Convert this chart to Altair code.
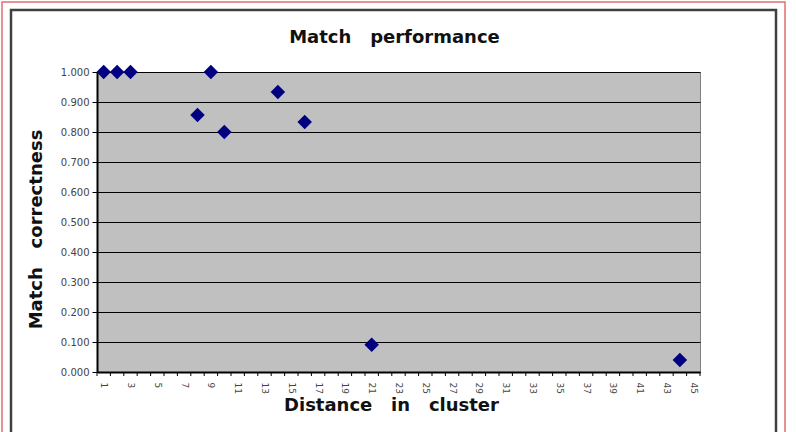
import altair as alt
import pandas as pd

# data
distance = [1, 2, 3, 8, 9, 10, 14, 16, 21, 44]
correctness = [1.000, 1.000, 1.000, 0.857, 1.000, 0.800, 0.933, 0.833, 0.091, 0.040]
tick_bounds = [i + 0.5 for i in range(0, 46)]
x_label_values = list(range(1, 46, 2))
y_tick_values = [round(i * 0.1, 1) for i in range(0, 11)]

NB = "\u00a0"
title_text = f"Match{NB}{NB}{NB}performance"
x_title = f"Distance{NB}{NB}{NB}in{NB}{NB}{NB}cluster"
y_title = f"Match{NB}{NB}{NB}correctness"

LFONT = "DejaVu Sans"
TFONT = "DejaVu Sans"
TSIZE = 18
W, H = 603, 300

df = pd.DataFrame({"distance": distance, "correctness": correctness})
ticks_df = pd.DataFrame({"b": tick_bounds})
title_df = pd.DataFrame({"t": [title_text]})

x_scale = alt.Scale(domain=[0.5, 45.5], nice=False, zero=False)
y_scale = alt.Scale(domain=[0, 1], nice=False)

x_axis = alt.Axis(values=x_label_values, title=x_title, tickSize=0,
                  labelAngle=90, labelAlign="left", labelBaseline="middle",
                  labelPadding=10, labelFontSize=9, labelFont=LFONT,
                  labelColor="#444444", grid=False, domainColor="#000000",
                  domainWidth=2, titleFont=TFONT, titleFontSize=TSIZE,
                  titleFontWeight="bold", titleColor="#111111",
                  titlePadding=3, titleX=294, labelOverlap=False)

points = alt.Chart(df).mark_point(
    shape="diamond", filled=True, size=210, color="#000080", opacity=1
).encode(
    x=alt.X("distance:Q", scale=x_scale, axis=x_axis),
    y=alt.Y("correctness:Q", scale=y_scale,
            axis=alt.Axis(values=y_tick_values, format=".3f", title=y_title,
                          tickSize=5, tickColor="#000000", labelFontSize=10,
                          labelFont=LFONT, labelColor="#444444", labelPadding=3,
                          gridColor="#000000", gridWidth=1.2, gridOpacity=1,
                          domainColor="#000000", domainWidth=2,
                          titleFont=TFONT, titleFontSize=TSIZE, titleFontWeight="bold",
                          titleColor="#111111", titlePadding=15, titleY=157)),
)

xticks = alt.Chart(ticks_df).mark_rule(color="#000000", strokeWidth=1).encode(
    x=alt.X("b:Q", scale=x_scale, axis=x_axis),
    y=alt.value(H),
    y2=alt.value(H + 4),
)

title_mark = alt.Chart(title_df).mark_text(
    font=TFONT, fontSize=TSIZE, fontWeight="bold", color="#111111",
    align="center", baseline="alphabetic"
).encode(text="t:N", x=alt.value(W / 2 - 4), y=alt.value(-29))

frame_df = pd.DataFrame({"a": [0]})
red_frame = alt.Chart(frame_df).mark_rect(
    fill=None, stroke="#E07070", strokeWidth=1.5
).encode(x=alt.value(-95), x2=alt.value(688), y=alt.value(-70), y2=alt.value(372))
dark_frame = alt.Chart(frame_df).mark_rect(
    fill=None, stroke="#404040", strokeWidth=2.5
).encode(x=alt.value(-86), x2=alt.value(679), y=alt.value(-62), y2=alt.value(372))

chart = alt.layer(red_frame, dark_frame, points, xticks, title_mark).properties(
    width=W, height=H,
    autosize=alt.AutoSizeParams(type="none"),
    padding={"left": 97, "top": 72, "right": 96, "bottom": 60},
    background="#FFFFFF",
).configure_view(
    fill="#C0C0C0", stroke="#808080", strokeWidth=1
)

chart.save("out.html", embed_options={"renderer": "svg", "actions": False})
